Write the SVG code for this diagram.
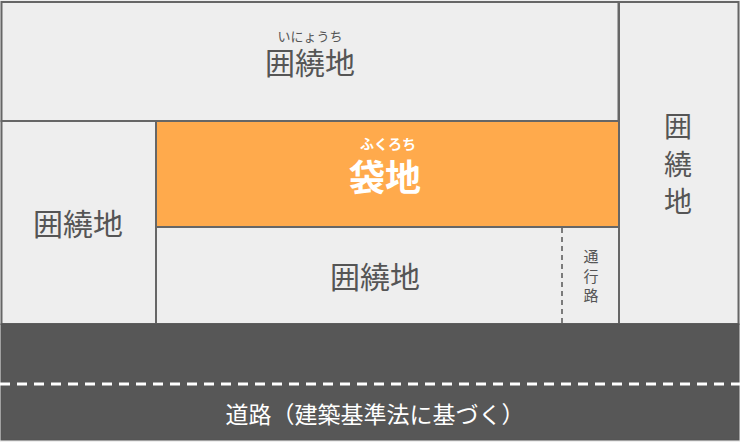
<svg xmlns="http://www.w3.org/2000/svg" width="740" height="442" viewBox="0 0 740 442">
<style>
.lot{fill:#eeeeee;stroke:#666666;stroke-width:2}
.t{font-family:"Noto Sans CJK JP","Noto Sans",sans-serif;fill:#555555;text-anchor:middle;dominant-baseline:central}
.w{fill:#ffffff}
</style>
<rect x="0" y="0" width="740" height="442" fill="#eeeeee"/>
<g id="top-lot">
<rect class="lot" x="1.5" y="2" width="617" height="119"/>
<text class="t" x="310" y="35" font-size="13">いにょうち</text>
<text class="t" x="310" y="61" font-size="30">囲繞地</text>
</g>
<g id="left-lot">
<rect class="lot" x="1.5" y="121" width="154.5" height="203"/>
<text class="t" x="78" y="222" font-size="30">囲繞地</text>
</g>
<g id="fukurochi">
<rect x="156" y="121" width="463" height="106" fill="#ffaa4c" stroke="#666666" stroke-width="2"/>
<text class="t w" x="388" y="143" font-size="14" font-weight="bold">ふくろち</text>
<text class="t w" x="385" y="175" font-size="36" font-weight="bold">袋地</text>
</g>
<g id="bottom-lot">
<rect class="lot" x="156" y="227" width="463" height="97"/>
<text class="t" x="375" y="275" font-size="30">囲繞地</text>
</g>
<g id="passage">
<text class="t" x="591" y="255.5" font-size="15">通</text>
<text class="t" x="591" y="275" font-size="15">行</text>
<text class="t" x="591" y="294.5" font-size="15">路</text>
</g>
<g id="right-lot">
<rect class="lot" x="619" y="2" width="119.5" height="322"/>
<text class="t" x="678" y="125" font-size="28">囲</text>
<text class="t" x="678" y="163" font-size="28">繞</text>
<text class="t" x="678" y="200" font-size="28">地</text>
</g>
<g id="road">
<rect x="1" y="324" width="738" height="116" fill="#575757" stroke="#555555" stroke-width="1"/>
<text class="t w" x="375" y="413" font-size="23">道路（建築基準法に基づく）</text>
</g>
<g id="connectors">
<line x1="562" y1="228" x2="562" y2="323" stroke="#555555" stroke-width="1.5" stroke-dasharray="5 4"/>
<line x1="0" y1="384" x2="740" y2="384" stroke="#ffffff" stroke-width="3" stroke-dasharray="10 7"/>
</g>
</svg>
